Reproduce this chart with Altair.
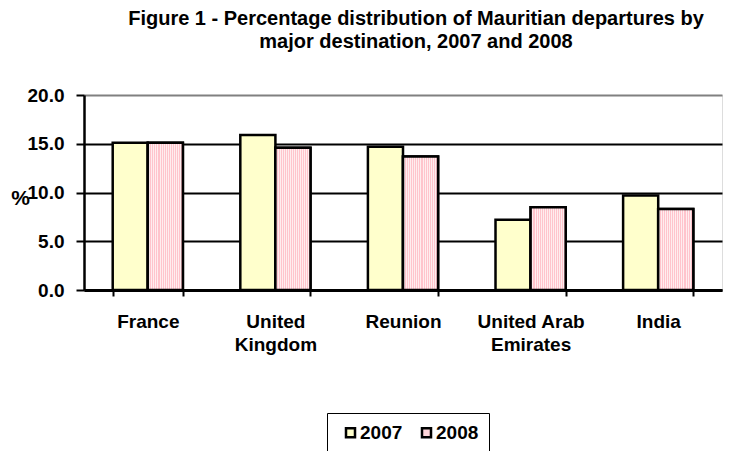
import altair as alt
import pandas as pd

categories = ["France", "United Kingdom", "Reunion", "United Arab Emirates", "India"]
years = ["2007", "2008"]
values_2007 = [15.1, 15.9, 14.7, 7.2, 9.7]
values_2008 = [15.1, 14.6, 13.7, 8.5, 8.3]
y_ticks = [0, 5, 10, 15, 20]

rows = []
for c, a, b in zip(categories, values_2007, values_2008):
    rows.append({"dest": c, "year": "2007", "pct": a})
    rows.append({"dest": c, "year": "2008", "pct": b})
df = pd.DataFrame(rows)

FONT = "Liberation Sans"
FS = 19

# striped fill for 2008 bars
n = 18
stops = []
for i in range(n):
    a = i / n
    m = (i + 0.5) / n
    e = (i + 1) / n
    stops += [
        alt.GradientStop(color="#FFC4CC", offset=a),
        alt.GradientStop(color="#FFC4CC", offset=m),
        alt.GradientStop(color="#FFEDEF", offset=m),
        alt.GradientStop(color="#FFEDEF", offset=e),
    ]
stripe = alt.LinearGradient(gradient="linear", stops=stops, x1=0, x2=1, y1=0, y2=0)

label_expr = (
    "datum.label == 'United Kingdom' ? ['United', 'Kingdom'] : "
    "datum.label == 'United Arab Emirates' ? ['United Arab', 'Emirates'] : datum.label"
)

x_enc = alt.X(
    "dest:N",
    sort=categories,
    title=None,
    scale=alt.Scale(paddingInner=0.45, paddingOuter=0.225),
    axis=alt.Axis(
        labelAngle=0,
        labelExpr=label_expr,
        labelFont=FONT,
        labelFontSize=FS,
        labelFontWeight="bold",
        labelColor="black",
        labelBaseline="top",
        labelPadding=16,
        labelLineHeight=23,
        tickBand="extent",
        tickSize=6,
        tickWidth=2,
        tickColor="black",
        domainColor="black",
        domainWidth=3,
        grid=False,
    ),
)
xoff = alt.XOffset("year:N", sort=years, scale=alt.Scale(paddingInner=0, paddingOuter=0))
y_enc = alt.Y(
    "pct:Q",
    title="%",
    scale=alt.Scale(domain=[0, 20], nice=False),
    axis=alt.Axis(
        values=y_ticks,
        format=".1f",
        labelFont=FONT,
        labelFontSize=FS,
        labelFontWeight="bold",
        labelColor="black",
        labelPadding=12,
        tickSize=8,
        tickWidth=2,
        tickColor="black",
        domainColor="black",
        domainWidth=2.5,
        grid=True,
        gridColor=alt.condition("datum.value >= 20", alt.value("#808080"), alt.value("black")),
        gridWidth=2,
        titleFont=FONT,
        titleFontSize=21,
        titleFontWeight="bold",
        titleColor="black",
        titleAngle=0,
        titleAlign="center",
        titleBaseline="middle",
        titleX=-64,
        titleY=103,
    ),
)

base = alt.Chart(df).mark_bar(stroke="black", strokeWidth=2.5).encode(
    x=x_enc,
    xOffset=xoff,
    y=y_enc,
    color=alt.Color(
        "year:N",
        sort=years,
        scale=alt.Scale(domain=years, range=["#FFFFCC", "#FFD6DB"]),
        legend=alt.Legend(
            title=None,
            orient="none",
            direction="horizontal",
            legendX=243,
            legendY=318,
            symbolType="square",
            symbolSize=81,
            symbolStrokeColor="black",
            symbolStrokeWidth=2.5,
            symbolOffset=4,
            labelFont=FONT,
            labelFontSize=FS,
            labelFontWeight="bold",
            labelColor="black",
            labelOffset=0,
            columnPadding=10,
            padding=10,
            strokeColor="black",
            fillColor="white",
        ),
    ),
)

stripes = alt.Chart(df).transform_filter("datum.year == '2008'").mark_bar(
    stroke="black", strokeWidth=2.5, fill=stripe
).encode(x=x_enc, xOffset=xoff, y=y_enc)

chart = (
    alt.layer(base, stripes)
    .properties(
        width=638,
        height=195,
        autosize=alt.AutoSizeParams(type="none"),
        padding={"left": 76, "top": 87, "right": 10, "bottom": 161},
        title=alt.TitleParams(
            text=[
                "Figure 1 - Percentage distribution  of Mauritian departures by",
                "major destination,  2007 and 2008",
            ],
            font=FONT,
            fontSize=20,
            fontWeight="bold",
            color="black",
            lineHeight=23,
            anchor="middle",
            dx=13,
            offset=34,
        ),
    )
    .configure_view(stroke="#808080", strokeWidth=2)
    .configure_legend(strokeWidth=2)
    .configure(background="white")
)

chart.save("out.html", embed_options={"renderer": "svg", "actions": False})
